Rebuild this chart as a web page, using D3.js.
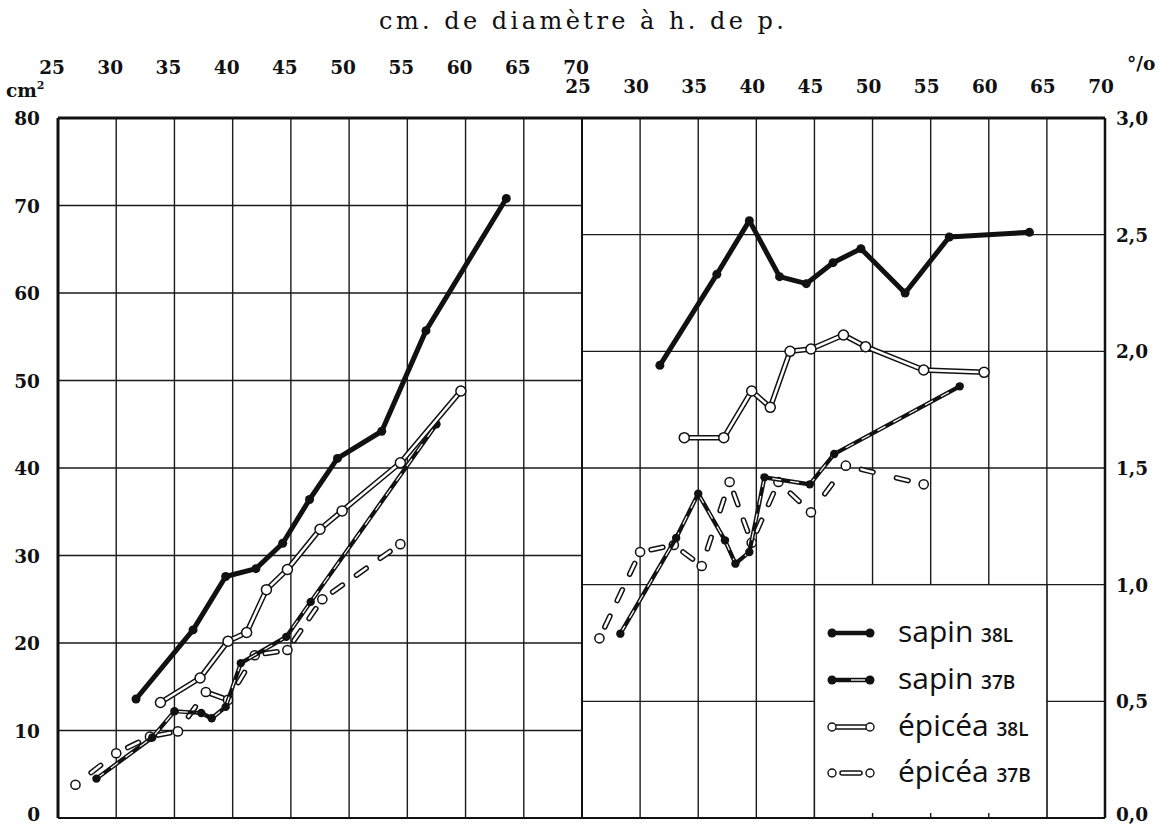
<!DOCTYPE html>
<html>
<meta charset="utf-8">
<title>Accroissement sapin / épicéa</title>
<style>
  body { margin: 0; background: #fff; }
  .tick-label { font-family: "DejaVu Serif", serif; font-weight: bold; font-size: 18.5px; fill: #111; }
  .title { font-family: "DejaVu Serif", serif; font-size: 24px; fill: #111; }
  .grid line { stroke: #1a1a1a; stroke-width: 1.4px; }
  .legend-text { font-family: "Open Sans", sans-serif; fill: #111; }
</style>
<body>
<div id="chart"></div>
<script src="https://d3js.org/d3.v7.min.js"></script>
<script>
// diameters (cm at breast height) for each series
var dSapin38L  = [31.7, 36.6, 39.4, 42.0, 44.3, 46.6, 49.0, 52.8, 56.6, 63.5];
var dSapin37B  = [28.3, 33.1, 35.0, 37.3, 38.2, 39.4, 40.7, 44.6, 46.7, 57.5];
var dEpicea38L = [33.8, 37.2, 39.6, 41.2, 42.9, 44.7, 47.5, 49.4, 54.4, 59.6];
var dEpicea37B = [26.5, 30.0, 32.9, 35.3, 37.7, 39.6, 41.9, 44.7, 47.7, 54.4];

// left panel: cm2
var sapin38L_cm2  = [13.6, 21.5, 27.6, 28.5, 31.4, 36.4, 41.1, 44.2, 55.7, 70.8];
var sapin37B_cm2  = [4.5, 9.2, 12.2, 12.0, 11.4, 12.7, 17.7, 20.7, 24.7, 45.0];
var epicea38L_cm2 = [13.2, 16.0, 20.2, 21.2, 26.1, 28.4, 33.0, 35.1, 40.6, 48.8];
var epicea37B_cm2 = [3.8, 7.4, 9.3, 9.9, 14.4, 13.5, 18.6, 19.2, 25.0, 31.3];

// right panel: %
var sapin38L_pct  = [1.94, 2.33, 2.56, 2.32, 2.29, 2.38, 2.44, 2.25, 2.49, 2.51];
var sapin37B_pct  = [0.79, 1.20, 1.39, 1.19, 1.09, 1.14, 1.46, 1.43, 1.56, 1.85];
var epicea38L_pct = [1.63, 1.63, 1.83, 1.76, 2.00, 2.01, 2.07, 2.02, 1.92, 1.91];
var epicea37B_pct = [0.77, 1.14, 1.17, 1.08, 1.44, 1.18, 1.44, 1.31, 1.51, 1.43];

var xTicks = [25, 30, 35, 40, 45, 50, 55, 60, 65, 70];
var yTicksL = [0, 10, 20, 30, 40, 50, 60, 70, 80];
var yTicksR = [0, 0.5, 1.0, 1.5, 2.0, 2.5, 3.0];
var legendNames = ["sapin", "sapin", "épicéa", "épicéa"];
var legendCodes = ["38L", "37B", "38L", "37B"];

var width = 1159, height = 827;
var top0 = 118, bottom0 = 818;

var xL = d3.scaleLinear().domain([25, 70]).range([58, 582]);
var xR = d3.scaleLinear().domain([25, 70]).range([582, 1105]);
var yL = d3.scaleLinear().domain([0, 80]).range([bottom0, top0]);
var yR = d3.scaleLinear().domain([0, 3]).range([bottom0, top0]);

var svg = d3.select("#chart").append("svg")
    .attr("width", width)
    .attr("height", height);

// grid
var grid = svg.append("g").attr("class", "grid");
grid.selectAll(".vl").data(xTicks).enter().append("line")
    .attr("x1", d => xL(d)).attr("x2", d => xL(d))
    .attr("y1", top0).attr("y2", bottom0);
grid.selectAll(".vr").data(xTicks).enter().append("line")
    .attr("x1", d => xR(d)).attr("x2", d => xR(d))
    .attr("y1", top0).attr("y2", bottom0);
grid.selectAll(".hl").data(yTicksL).enter().append("line")
    .attr("x1", xL(25)).attr("x2", xL(70))
    .attr("y1", d => yL(d)).attr("y2", d => yL(d));
grid.selectAll(".hr").data(yTicksR).enter().append("line")
    .attr("x1", xR(25)).attr("x2", xR(70))
    .attr("y1", d => yR(d)).attr("y2", d => yR(d));

// legend box hides the grid
var lx0 = xR(45), lx1 = xR(65), ly0 = yR(1.0), ly1 = yR(0);
svg.append("rect")
    .attr("x", lx0).attr("y", ly0)
    .attr("width", lx1 - lx0).attr("height", ly1 - ly0)
    .attr("fill", "#fff").attr("stroke", "#1a1a1a").attr("stroke-width", 1.4);
svg.selectAll(".ltick").data([50, 55, 60]).enter().append("line")
    .attr("x1", d => xR(d)).attr("x2", d => xR(d))
    .attr("y1", ly1 - 5).attr("y2", ly1)
    .attr("stroke", "#1a1a1a").attr("stroke-width", 1.4);

// frame
svg.append("line").attr("x1", xL(25)).attr("x2", xR(70)).attr("y1", top0).attr("y2", top0)
    .attr("stroke", "#111").attr("stroke-width", 3);
svg.append("line").attr("x1", xL(25)).attr("x2", xR(70)).attr("y1", bottom0).attr("y2", bottom0)
    .attr("stroke", "#111").attr("stroke-width", 2);
svg.append("line").attr("x1", xL(25)).attr("x2", xL(25)).attr("y1", top0).attr("y2", bottom0)
    .attr("stroke", "#111").attr("stroke-width", 3);
svg.append("line").attr("x1", xR(25)).attr("x2", xR(25)).attr("y1", top0).attr("y2", bottom0)
    .attr("stroke", "#111").attr("stroke-width", 2);
svg.append("line").attr("x1", xR(70)).attr("x2", xR(70)).attr("y1", top0).attr("y2", bottom0)
    .attr("stroke", "#111").attr("stroke-width", 2.5);

// texts
svg.append("text").attr("class", "title")
    .attr("x", (xL(25) + xR(70)) / 2).attr("y", 29)
    .attr("text-anchor", "middle")
    .attr("textLength", 405).attr("lengthAdjust", "spacing")
    .text("cm. de diamètre à h. de p.");

svg.selectAll(".txl").data(xTicks).enter().append("text")
    .attr("class", "tick-label")
    .attr("x", d => xL(d) - 6).attr("y", 74)
    .attr("text-anchor", "middle")
    .text(d => d);
svg.selectAll(".txr").data(xTicks).enter().append("text")
    .attr("class", "tick-label")
    .attr("x", d => xR(d) - 4).attr("y", 93)
    .attr("text-anchor", "middle")
    .text(d => d);
// bottom labels nudged up so they stay inside the page
svg.selectAll(".tyl").data(yTicksL).enter().append("text")
    .attr("class", "tick-label")
    .attr("x", 40).attr("y", d => Math.min(yL(d) + 7, 821))
    .attr("text-anchor", "end")
    .text(d => d);
svg.selectAll(".tyr").data(yTicksR).enter().append("text")
    .attr("class", "tick-label")
    .attr("x", 1116).attr("y", d => Math.min(yR(d) + 7, 821))
    .text(d => d.toFixed(1).replace(".", ","));

var cm = svg.append("text").attr("class", "tick-label").attr("x", 6).attr("y", 97);
cm.append("tspan").text("cm");
cm.append("tspan").attr("dy", -8).attr("font-size", 11).text("2");
svg.append("text").attr("class", "tick-label").attr("x", 1127).attr("y", 70).text("°/o");

// series drawing
function pts(xs, ys) { return d3.zip(xs, ys); }

function drawSapin38L(x, y, data) {
  var line = d3.line().x(d => x(d[0])).y(d => y(d[1]));
  svg.append("path").datum(data).attr("d", line)
      .attr("fill", "none").attr("stroke", "#111").attr("stroke-width", 5)
      .attr("stroke-linejoin", "round");
  svg.selectAll(null).data(data).enter().append("circle")
      .attr("cx", d => x(d[0])).attr("cy", d => y(d[1])).attr("r", 4.5).attr("fill", "#111");
}

function drawSapin37B(x, y, data) {
  var line = d3.line().x(d => x(d[0])).y(d => y(d[1]));
  svg.append("path").datum(data).attr("d", line)
      .attr("fill", "none").attr("stroke", "#111").attr("stroke-width", 4.2)
      .attr("stroke-linejoin", "round");
  svg.append("path").datum(data).attr("d", line)
      .attr("fill", "none").attr("stroke", "#fff").attr("stroke-width", 1.2)
      .attr("stroke-dasharray", "9,9");
  svg.selectAll(null).data(data).enter().append("circle")
      .attr("cx", d => x(d[0])).attr("cy", d => y(d[1])).attr("r", 4.2).attr("fill", "#111");
}

function drawEpicea38L(x, y, data) {
  var line = d3.line().x(d => x(d[0])).y(d => y(d[1]));
  svg.append("path").datum(data).attr("d", line)
      .attr("fill", "none").attr("stroke", "#111").attr("stroke-width", 5.5)
      .attr("stroke-linejoin", "round");
  svg.append("path").datum(data).attr("d", line)
      .attr("fill", "none").attr("stroke", "#fff").attr("stroke-width", 2.5)
      .attr("stroke-linejoin", "round");
  svg.selectAll(null).data(data).enter().append("circle")
      .attr("cx", d => x(d[0])).attr("cy", d => y(d[1])).attr("r", 5)
      .attr("fill", "#fff").attr("stroke", "#111").attr("stroke-width", 1.5);
}

function drawEpicea37B(x, y, data) {
  // each segment drawn as short double dashes between open circles
  var g = svg.append("g");
  d3.pairs(data).forEach(function(p) {
    var x1 = x(p[0][0]), y1 = y(p[0][1]), x2 = x(p[1][0]), y2 = y(p[1][1]);
    var len = Math.hypot(x2 - x1, y2 - y1);
    var n = Math.max(1, Math.round((len - 8) / 34));
    var step = (len - 8) / n;
    for (var i = 0; i < n; i++) {
      var c = 4 + step * (i + 0.5);
      var a = (c - 6) / len, b = (c + 6) / len;
      var seg = [[x1 + (x2 - x1) * a, y1 + (y2 - y1) * a], [x1 + (x2 - x1) * b, y1 + (y2 - y1) * b]];
      g.append("line").attr("x1", seg[0][0]).attr("y1", seg[0][1]).attr("x2", seg[1][0]).attr("y2", seg[1][1])
          .attr("stroke", "#111").attr("stroke-width", 5.5).attr("stroke-linecap", "round");
      g.append("line").attr("x1", seg[0][0]).attr("y1", seg[0][1]).attr("x2", seg[1][0]).attr("y2", seg[1][1])
          .attr("stroke", "#fff").attr("stroke-width", 2.5).attr("stroke-linecap", "round");
    }
  });
  g.selectAll("circle").data(data).enter().append("circle")
      .attr("cx", d => x(d[0])).attr("cy", d => y(d[1])).attr("r", 4.6)
      .attr("fill", "#fff").attr("stroke", "#111").attr("stroke-width", 1.5);
}

drawEpicea37B(xL, yL, pts(dEpicea37B, epicea37B_cm2));
drawEpicea37B(xR, yR, pts(dEpicea37B, epicea37B_pct));
drawSapin37B(xL, yL, pts(dSapin37B, sapin37B_cm2));
drawSapin37B(xR, yR, pts(dSapin37B, sapin37B_pct));
drawEpicea38L(xL, yL, pts(dEpicea38L, epicea38L_cm2));
drawEpicea38L(xR, yR, pts(dEpicea38L, epicea38L_pct));
drawSapin38L(xL, yL, pts(dSapin38L, sapin38L_cm2));
drawSapin38L(xR, yR, pts(dSapin38L, sapin38L_pct));

// legend
var legY = [633, 680, 727, 773];
var sx0 = 832, sx1 = 870;
legendNames.forEach(function(name, i) {
  var ly = legY[i];
  if (i == 0 || i == 1) {
    svg.append("line").attr("x1", sx0).attr("x2", sx1).attr("y1", ly).attr("y2", ly)
        .attr("stroke", "#111").attr("stroke-width", 4.5);
    if (i == 1) {
      svg.append("line").attr("x1", (sx0 + sx1) / 2).attr("x2", sx1 - 5).attr("y1", ly).attr("y2", ly)
          .attr("stroke", "#fff").attr("stroke-width", 1.3);
    }
    svg.selectAll(null).data([sx0, sx1]).enter().append("circle")
        .attr("cx", d => d).attr("cy", ly).attr("r", 4.5).attr("fill", "#111");
  } else {
    var a = i == 2 ? sx0 : sx0 + 10, b = i == 2 ? sx1 : sx1 - 10;
    svg.append("line").attr("x1", a).attr("x2", b).attr("y1", ly).attr("y2", ly)
        .attr("stroke", "#111").attr("stroke-width", 5.5).attr("stroke-linecap", "round");
    svg.append("line").attr("x1", a).attr("x2", b).attr("y1", ly).attr("y2", ly)
        .attr("stroke", "#fff").attr("stroke-width", 2.5).attr("stroke-linecap", "round");
    svg.selectAll(null).data([sx0, sx1]).enter().append("circle")
        .attr("cx", d => d).attr("cy", ly).attr("r", 4)
        .attr("fill", "#fff").attr("stroke", "#111").attr("stroke-width", 1.4);
  }
  var t = svg.append("text").attr("class", "legend-text").attr("x", 898).attr("y", ly + 9);
  t.append("tspan").attr("font-size", 30).text(name + " ");
  t.append("tspan").attr("font-size", 19).attr("font-weight", 600).text(legendCodes[i]);
});
</script>
</body>
</html>
